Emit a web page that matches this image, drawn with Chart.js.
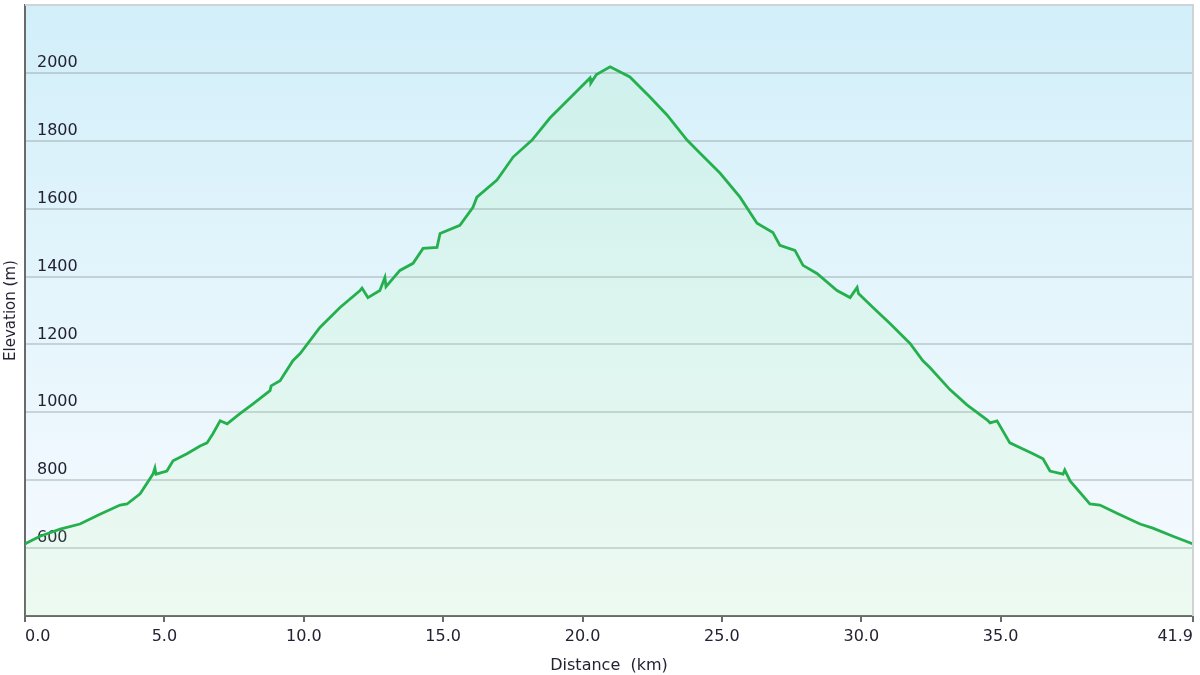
<!DOCTYPE html>
<html>
<head>
<meta charset="utf-8">
<script src="https://cdn.jsdelivr.net/npm/chart.js@4.4.1/dist/chart.umd.min.js"></script>
<style>
    html, body { margin: 0; padding: 0; background: #fff; }
    #wrap { width: 1200px; height: 675px; }
</style>
</head>
<body>
<div id="wrap"><canvas id="elevChart"></canvas></div>
<script>
// Distance along the route (km)
const distKm = [
    0.00, 0.06, 0.54, 1.26, 1.97, 2.69, 3.41, 3.66, 4.13, 4.59, 4.66, 4.70,
    5.09, 5.31, 5.81, 6.28, 6.53, 6.74, 7.00, 7.25, 7.71, 8.18, 8.79, 8.83,
    9.15, 9.61, 9.87, 10.58, 11.30, 12.02, 12.09, 12.30, 12.73, 12.91, 12.95,
    13.45, 13.92, 14.28, 14.78, 14.89, 15.60, 16.07, 16.21, 16.93, 17.51,
    18.19, 18.83, 19.55, 20.27, 20.30, 20.50, 20.99, 21.70, 22.42, 23.03,
    23.75, 24.21, 24.93, 25.65, 26.26, 26.83, 27.08, 27.62, 27.91, 28.41,
    29.13, 29.60, 29.85, 29.90, 30.42, 31.03, 31.75, 32.21, 32.46, 33.18,
    33.79, 34.51, 34.62, 34.87, 35.33, 35.80, 36.16, 36.52, 36.77, 37.24,
    37.30, 37.49, 38.20, 38.56, 39.17, 40.00, 40.46, 41.18, 41.90
];

// Elevation at each distance (m)
const elevM = [
    612, 615, 635, 656, 671, 700, 727, 730, 760, 818, 836, 818,
    827, 857, 878, 901, 910, 937, 975, 966, 996, 1025, 1064, 1078,
    1093, 1152, 1173, 1250, 1309, 1359, 1366, 1338, 1359, 1397, 1370,
    1418, 1439, 1483, 1486, 1527, 1551, 1604, 1634, 1684, 1752,
    1802, 1867, 1926, 1985, 1970, 1995, 2018, 1988, 1929, 1876,
    1802, 1764, 1705, 1634, 1557, 1530, 1492, 1477, 1433, 1409,
    1359, 1338, 1368, 1350, 1309, 1262, 1203, 1152, 1132, 1067,
    1022, 978, 969, 975, 910, 892, 878, 863, 827, 818,
    830, 798, 730, 727, 703, 671, 659, 635, 612
];

const xTickValues = [0, 5, 10, 15, 20, 25, 30, 35, 41.9];
const yTickValues = [400, 600, 800, 1000, 1200, 1400, 1600, 1800, 2000, 2200];
const yLabelled = [600, 800, 1000, 1200, 1400, 1600, 1800, 2000];

const plotFrame = {
    id: 'plotFrame',
    beforeDraw(chart) {
        const { ctx, chartArea: a } = chart;
        const g = ctx.createLinearGradient(0, a.top, 0, a.bottom);
        g.addColorStop(0, '#d2eff9');
        g.addColorStop(1, '#f8fbff');
        ctx.save();
        ctx.fillStyle = g;
        ctx.fillRect(a.left, a.top, a.right - a.left, a.bottom - a.top);
        ctx.restore();
    },
    afterDraw(chart) {
        const { ctx, chartArea: a } = chart;
        ctx.save();
        ctx.strokeStyle = '#cfd3d6';
        ctx.lineWidth = 2;
        ctx.beginPath();
        ctx.moveTo(a.left, a.top);
        ctx.lineTo(a.right, a.top);
        ctx.lineTo(a.right, a.bottom);
        ctx.stroke();
        ctx.restore();
    }
};

const points = distKm.map((d, i) => ({ x: d, y: elevM[i] }));

const ctx = document.getElementById('elevChart').getContext('2d');
const elevChart = new Chart(ctx, {
    type: 'line',
    data: {
        datasets: [{
            label: 'Elevation',
            data: points,
            borderColor: '#25b04e',
            borderWidth: 2.8,
            pointRadius: 0,
            tension: 0,
            fill: 'start',
            backgroundColor: 'rgba(150, 250, 130, 0.1)'
        }]
    },
    options: {
        responsive: true,
        maintainAspectRatio: false,
        animation: false,
        layout: { padding: { top: 5, right: 7 } },
        plugins: {
            legend: { display: false },
            tooltip: { enabled: false }
        },
        scales: {
            x: {
                type: 'linear',
                min: 0,
                max: 41.9,
                afterBuildTicks: (s) => { s.ticks = xTickValues.map(v => ({ value: v })); },
                afterFit: (s) => { s.height = 59; },
                ticks: {
                    align: 'inner',
                    padding: 5,
                    color: '#222233',
                    font: { family: 'DejaVu Sans', size: 16 },
                    callback: (v) => Number(v).toFixed(1)
                },
                grid: {
                    drawOnChartArea: false,
                    drawTicks: true,
                    tickLength: 6,
                    color: '#6a6a6a',
                    lineWidth: 2
                },
                border: { color: '#6a6a6a', width: 2 },
                title: {
                    display: true,
                    text: 'Distance  (km)',
                    color: '#222233',
                    font: { family: 'DejaVu Sans', size: 16 },
                    padding: { top: 0, bottom: 0 }
                }
            },
            y: {
                type: 'linear',
                min: 400,
                max: 2200,
                afterBuildTicks: (s) => { s.ticks = yTickValues.map(v => ({ value: v })); },
                afterFit: (s) => {
                    s.width = 25;
                    s.paddingTop = 0;
                    s.paddingBottom = 0;
                },
                ticks: {
                    mirror: true,
                    padding: 12,
                    labelOffset: -10,
                    color: '#222233',
                    font: { family: 'DejaVu Sans', size: 16 },
                    callback: (v) => yLabelled.includes(v) ? String(v) : ''
                },
                grid: {
                    drawTicks: false,
                    color: 'rgba(120, 130, 135, 0.3)',
                    lineWidth: 2
                },
                border: { color: '#6a6a6a', width: 2 },
                title: {
                    display: true,
                    text: 'Elevation (m)',
                    color: '#222233',
                    font: { family: 'DejaVu Sans', size: 15 },
                    padding: { top: 2, bottom: 0 }
                }
            }
        }
    },
    plugins: [plotFrame]
});
</script>
</body>
</html>
